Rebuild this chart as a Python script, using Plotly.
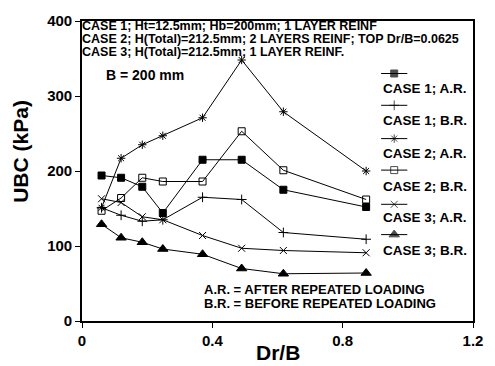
import plotly.graph_objects as go

# ---- data ----
dr_b = [0.06, 0.12, 0.185, 0.248, 0.37, 0.49, 0.618, 0.872]
case1_ar = [194, 191, 179, 144, 215, 215, 175, 152]
case1_br = [151, 141, 133, 135, 165, 162, 118, 109]
case2_ar = [151, 217, 235, 247, 271, 348, 279, 200]
case2_br = [147, 164, 191, 186, 186, 253, 201, 162]
case3_ar = [163, 158, 139, 135, 114, 97, 94, 91]
case3_br = [129, 111, 105, 96, 89, 70, 63, 64]

series_names = ["CASE 1; A.R.", "CASE 1; B.R.", "CASE 2; A.R.",
                "CASE 2; B.R.", "CASE 3; A.R.", "CASE 3; B.R."]
series_vals = [case1_ar, case1_br, case2_ar, case2_br, case3_ar, case3_br]
symbols = ["square", "cross-thin-open", "asterisk-open",
           "square-open", "x-thin-open", "triangle-up"]
sizes = [7, 7, 7, 7, 7, 9]

x_ticks = [0, 0.4, 0.8, 1.2]
x_ticklabels = ["0", "0.4", "0.8", "1.2"]
y_ticks = [0, 100, 200, 300, 400]
y_ticklabels = ["0", "100", "200", "300", "400"]

header_lines = [
    "CASE 1; Ht=12.5mm; Hb=200mm; 1 LAYER REINF",
    "CASE 2; H(Total)=212.5mm; 2 LAYERS REINF; TOP Dr/B=0.0625",
    "CASE 3; H(Total)=212.5mm; 1 LAYER REINF.",
]
b_note = "B = 200 mm"
abbrev_lines = ["A.R. = AFTER REPEATED LOADING", "B.R. = BEFORE REPEATED LOADING"]

FONT = "Liberation Sans, Arial, sans-serif"
BLACK = "black"

fig = go.Figure()

for name, vals, sym, sz in zip(series_names, series_vals, symbols, sizes):
    fig.add_trace(go.Scatter(
        x=dr_b, y=vals, mode="lines+markers", name=name,
        line=dict(color=BLACK, width=1),
        marker=dict(symbol=sym, size=sz, color=BLACK,
                    line=dict(color=BLACK, width=1)),
        showlegend=False,
    ))

# custom legend: sample line above text, as in the reference
leg_x0, leg_x1 = 0.765, 0.832
leg_icon_y = [0.825, 0.719, 0.608, 0.503, 0.389, 0.288]
leg_text_y = [0.774, 0.669, 0.558, 0.449, 0.344, 0.235]
for name, sym, sz, yy, ty in zip(series_names, symbols, sizes, leg_icon_y, leg_text_y):
    fig.add_trace(go.Scatter(
        x=[leg_x0, (leg_x0 + leg_x1) / 2, leg_x1], y=[yy, yy, yy],
        xaxis="x2", yaxis="y2", mode="lines+markers",
        line=dict(color=BLACK, width=1),
        marker=dict(symbol=sym, size=[0, sz, 0], color=BLACK,
                    line=dict(color=BLACK, width=1)),
        showlegend=False, hoverinfo="skip",
    ))
    fig.add_annotation(x=0.764, y=ty, xref="paper", yref="paper",
                       text=name, showarrow=False, xanchor="left", yanchor="middle",
                       font=dict(family=FONT, size=13.5, color=BLACK, weight="bold"))

# header text
head_y = [0.985, 0.941, 0.897]
for t, yy in zip(header_lines, head_y):
    fig.add_annotation(x=-0.005, y=yy, xref="paper", yref="paper", text=t,
                       showarrow=False, xanchor="left", yanchor="middle",
                       font=dict(family=FONT, size=12.5, color=BLACK, weight="bold"))

fig.add_annotation(x=0.057, y=0.820, xref="paper", yref="paper", text=b_note,
                   showarrow=False, xanchor="left", yanchor="middle",
                   font=dict(family=FONT, size=14, color=BLACK, weight="bold"))

for t, yy in zip(abbrev_lines, [0.105, 0.057]):
    fig.add_annotation(x=0.308, y=yy, xref="paper", yref="paper", text=t,
                       showarrow=False, xanchor="left", yanchor="middle",
                       font=dict(family=FONT, size=13, color=BLACK, weight="bold"))

# axis titles
fig.add_annotation(x=-0.156, y=0.564, xref="paper", yref="paper", text="UBC (kPa)",
                   textangle=-90, showarrow=False, xanchor="center", yanchor="middle",
                   font=dict(family=FONT, size=21, color=BLACK, weight="bold"))
fig.add_annotation(x=0.5, y=-0.105, xref="paper", yref="paper", text="Dr/B",
                   showarrow=False, xanchor="center", yanchor="middle",
                   font=dict(family=FONT, size=21, color=BLACK, weight="bold"))

axis_common = dict(showgrid=False, zeroline=False, showline=True, linecolor=BLACK,
                   linewidth=1.6, mirror=True, ticks="outside", ticklen=5,
                   tickcolor=BLACK, tickwidth=1.2,
                   tickfont=dict(family=FONT, size=15, color=BLACK, weight="bold"))

fig.update_layout(
    width=495, height=366,
    margin=dict(l=82, r=12, t=16, b=45),
    paper_bgcolor="white", plot_bgcolor="white",
    xaxis=dict(range=[0, 1.2], tickvals=x_ticks, ticktext=x_ticklabels, **axis_common),
    yaxis=dict(range=[0, 400], tickvals=y_ticks, ticktext=y_ticklabels, **axis_common),
    xaxis2=dict(range=[0, 1], overlaying="x", visible=False),
    yaxis2=dict(range=[0, 1], overlaying="y", visible=False),
)

fig.write_html("out.html")
